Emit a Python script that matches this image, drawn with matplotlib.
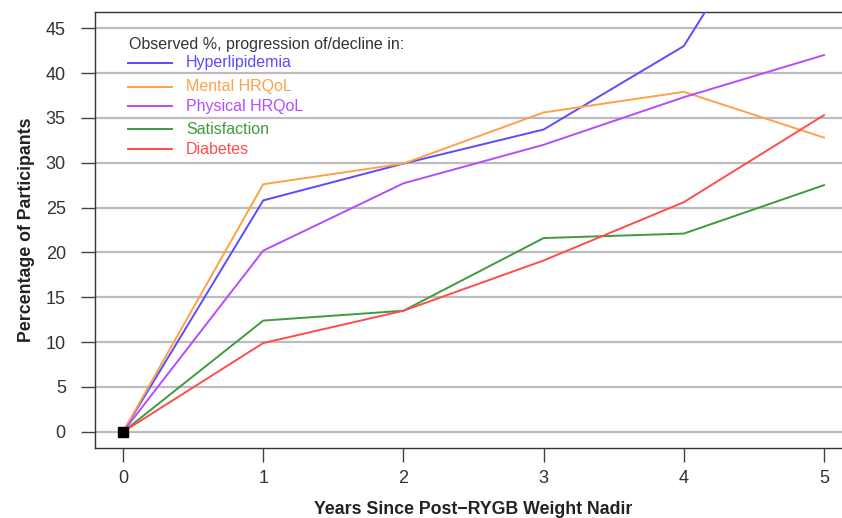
import numpy as np
import matplotlib
matplotlib.use('Agg')
import matplotlib.pyplot as plt
from matplotlib.lines import Line2D

plt.rcParams['font.family'] = ['Liberation Sans', 'DejaVu Sans']

years = [0, 1, 2, 3, 4, 5]
hyperlipidemia = [0, 25.8, 29.9, 33.7, 43.0, 68.0]
mental_hrqol = [0, 27.6, 29.9, 35.6, 37.9, 32.8]
physical_hrqol = [0, 20.2, 27.7, 32.0, 37.3, 42.0]
satisfaction = [0, 12.4, 13.5, 21.6, 22.1, 27.5]
diabetes = [0, 9.9, 13.5, 19.1, 25.6, 35.3]

series_names = ['Hyperlipidemia', 'Mental HRQoL', 'Physical HRQoL', 'Satisfaction', 'Diabetes']
series_values = [hyperlipidemia, mental_hrqol, physical_hrqol, satisfaction, diabetes]
colors = ['#5B4BFF', '#FFA04A', '#B44CFF', '#3F9A3F', '#FF4C4C']
yticks = [0, 5, 10, 15, 20, 25, 30, 35, 40, 45]

W, H = 842, 518
fig = plt.figure(figsize=(W / 100, H / 100), dpi=100)
# axes box runs past the right edge of the picture (cropped original)
ax = fig.add_axes([95 / W, 1 - 448 / H, (852 - 95) / W, (448 - 12) / H])

for y in yticks:
    ax.axhline(y, color='#bdbdbd', linewidth=1.6, zorder=1)

for name, vals, c in zip(series_names, series_values, colors):
    ax.plot(years, vals, color=c, linewidth=1.4, zorder=3)
ax.plot([years[0]], [0], marker='s', color='black', markersize=6.5, zorder=4)

ax.set_xlim(-0.2, 5.2)
ax.set_ylim(-1.8, 46.8)
ax.set_xticks(years)
ax.set_yticks(yticks)
ax.tick_params(axis='both', length=10, width=1, color='#444444', labelsize=13, labelcolor='#333333')
ax.tick_params(axis='y', pad=11)
ax.tick_params(axis='x', pad=6)
for side in ['left', 'bottom', 'top', 'right']:
    ax.spines[side].set_color('#333333')
    ax.spines[side].set_linewidth(1.0)

ax.set_xlabel('Years Since Post\u2212RYGB Weight Nadir', fontsize=12.8, fontweight='bold',
              color='#222222', labelpad=10)
ax.set_ylabel('Percentage of Participants', fontsize=12.8, fontweight='bold',
              color='#222222', labelpad=8)

# hand-placed legend (uneven row spacing as in the original)
def fy(px):
    return 1 - px / H

fig.text(129 / W, fy(45), 'Observed %, progression of/decline in:', fontsize=11.5,
         color='#333333', va='center', ha='left')
legend_rows = [63, 87, 106, 129, 149]
for name, c, ypx in zip(series_names, colors, legend_rows):
    fig.add_artist(Line2D([128 / W, 172 / W], [fy(ypx), fy(ypx)], color=c, linewidth=1.4,
                          transform=fig.transFigure))
    fig.text(186 / W, fy(ypx), name, fontsize=11.5, color=c, va='center', ha='left')

fig.savefig('out.png', dpi=100)
